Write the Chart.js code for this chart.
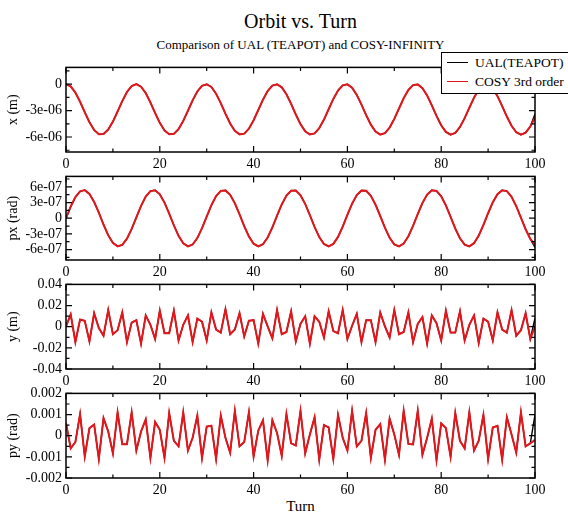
<!DOCTYPE html>
<html><head><meta charset="utf-8">
<script src="https://cdn.jsdelivr.net/npm/chart.js@4.4.1/dist/chart.umd.min.js"></script>
<style>
html,body{margin:0;padding:0;background:#fff;width:568px;height:515px;overflow:hidden;position:relative;font-family:"Liberation Serif","Times New Roman",serif;color:#000;}
canvas{position:absolute;left:0;}
#title{position:absolute;left:66px;width:469px;top:11px;text-align:center;font-size:20px;line-height:20px;white-space:nowrap;}
#subtitle{position:absolute;left:66px;width:469px;top:38px;text-align:center;font-size:13px;line-height:13px;white-space:nowrap;}
#xlabel{position:absolute;left:66px;width:469px;top:499px;text-align:center;font-size:15px;line-height:15px;}
#legend{position:absolute;left:441px;top:52px;width:150px;height:40px;border:1.5px solid #000;background:#fff;z-index:5;}
.item{position:absolute;left:5px;font-size:13.5px;line-height:14px;white-space:nowrap;}
.sw{display:inline-block;width:21px;height:0;border-top:1.5px solid;vertical-align:middle;margin-right:7px;position:relative;top:-1px;}
</style></head>
<body>
<div id="title">Orbit vs. Turn</div>
<div id="subtitle">Comparison of UAL (TEAPOT) and COSY-INFINITY</div>
<div id="legend">
  <div class="item" style="top:3px"><span class="sw" style="border-color:#000"></span>UAL(TEAPOT)</div>
  <div class="item" style="top:22px"><span class="sw" style="border-color:#e3171b"></span>COSY 3rd order</div>
</div>
<div id="xlabel">Turn</div>
<script>
// ---- data ----
const turns = Array.from({length: 101}, (_, i) => i);

const xTickValues = [0, 20, 40, 60, 80, 100];
const xTickLabels = ['0', '20', '40', '60', '80', '100'];

// x (m), in units of 1e-6 m
const cosyXMicro = [0,-0.25,-0.96,-2.00,-3.19,-4.32,-5.20,-5.68,-5.66,-5.15,
 -4.25,-3.10,-1.92,-0.89,-0.22,0.00,-0.29,-1.02,-2.08,-3.27,
 -4.39,-5.25,-5.69,-5.64,-5.10,-4.17,-3.02,-1.84,-0.83,-0.19,
 -0.01,-0.32,-1.09,-2.16,-3.36,-4.47,-5.30,-5.70,-5.62,-5.05,
 -4.10,-2.93,-1.76,-0.78,-0.16,-0.01,-0.36,-1.15,-2.24,-3.44,
 -4.54,-5.34,-5.71,-5.59,-4.99,-4.02,-2.85,-1.68,-0.72,-0.13,
 -0.02,-0.41,-1.22,-2.32,-3.52,-4.60,-5.38,-5.72,-5.56,-4.93,
 -3.94,-2.76,-1.60,-0.66,-0.11,-0.03,-0.45,-1.29,-2.41,-3.60,
 -4.67,-5.42,-5.73,-5.53,-4.87,-3.86,-2.68,-1.53,-0.61,-0.09,
 -0.05,-0.50,-1.36,-2.49,-3.68,-4.73,-5.46,-5.73,-5.50,-4.81,
 -3.79];
const ualXLast = -3.40;

// px (rad), in units of 1e-7 rad
const cosyPxE7 = [0,2.21,4.03,5.15,5.37,4.65,3.12,1.05,-1.21,-3.25,
 -4.73,-5.38,-5.10,-3.92,-2.06,0.16,2.35,4.13,5.19,5.35,
 4.57,2.99,0.89,-1.36,-3.38,-4.80,-5.39,-5.04,-3.81,-1.91,
 0.32,2.49,4.23,5.23,5.32,4.48,2.86,0.74,-1.52,-3.50,
 -4.88,-5.40,-4.98,-3.69,-1.76,0.48,2.63,4.33,5.27,5.29,
 4.39,2.72,0.58,-1.67,-3.62,-4.94,-5.40,-4.92,-3.58,-1.61,
 0.64,2.77,4.42,5.30,5.26,4.29,2.58,0.42,-1.82,-3.74,
 -5.00,-5.40,-4.85,-3.46,-1.46,0.79,2.91,4.51,5.33,5.22,
 4.20,2.44,0.26,-1.97,-3.85,-5.06,-5.39,-4.78,-3.33,-1.30,
 0.95,3.04,4.60,5.35,5.18,4.09,2.30,0.10,-2.11,-3.96,
 -5.11];
const ualPxLast = -5.60;

// y (m)
const cosyY = [0.0003,0.0116,-0.0145,0.0068,0.0056,-0.0139,0.0127,-0.0012,-0.0086,0.0157,
 -0.0071,-0.0033,0.0136,-0.0145,0.0039,0.0062,-0.0160,0.0107,0.0018,-0.0116,
 0.0151,-0.0062,-0.0062,0.0151,-0.0130,0.0018,0.0107,-0.0145,0.0077,0.0047,
 -0.0130,0.0136,-0.0027,-0.0056,0.0166,-0.0071,-0.0027,0.0127,-0.0092,0.0056,
 0.0062,-0.0160,0.0121,0.0003,-0.0110,0.0157,-0.0071,-0.0050,0.0145,-0.0139,
 0.0027,0.0098,-0.0160,0.0098,0.0047,-0.0101,0.0145,-0.0041,-0.0062,0.0157,
 -0.0116,0.0009,0.0121,-0.0145,0.0062,0.0062,-0.0145,0.0133,0.0003,-0.0101,
 0.0157,-0.0071,-0.0050,0.0136,-0.0145,0.0027,0.0092,-0.0160,0.0107,0.0033,
 -0.0130,0.0151,-0.0056,-0.0056,0.0145,-0.0130,0.0018,0.0107,-0.0154,0.0077,
 0.0047,-0.0130,0.0136,-0.0027,-0.0056,0.0157,-0.0086,-0.0033,0.0127,-0.0116,
 0.0003];
const ualYLast = 0.0080;

// py (rad), in units of 1e-3 rad
const cosyPyE3 = [0.60,-0.60,-0.30,1.02,-0.98,0.36,0.53,-1.10,0.83,0.20,
 -0.83,1.10,-0.40,-0.40,1.10,-0.70,0.20,0.77,-1.05,0.65,
 0.28,-1.05,1.07,-0.24,-0.50,1.10,-0.70,-0.10,0.95,-1.05,
 0.43,0.47,-1.10,0.95,-0.10,-0.80,1.17,-0.50,-0.30,1.10,
 -0.98,0.24,0.73,-1.16,0.73,0.13,-0.95,1.02,-0.36,-0.46,
 1.17,-0.83,0.06,0.87,-1.13,0.50,0.39,-1.10,0.98,-0.10,
 -0.70,1.17,-0.50,-0.24,1.07,-1.05,0.28,0.55,-1.13,0.80,
 0.06,-0.90,1.17,-0.39,-0.41,1.17,-0.90,-0.10,0.80,-1.16,
 0.58,0.36,-1.00,1.07,-0.24,-0.60,1.10,-0.70,-0.24,0.98,
 -1.10,0.39,0.47,-1.13,0.87,0.06,-0.80,1.10,-0.50,-0.36,
 -0.20];
const ualPyLast = 1.00;

const xTicksVals = [0, -3e-6, -6e-6];
const xTicksLbls = ['0', '-3e-06', '-6e-06'];
const pxTicksVals = [6e-7, 3e-7, 0, -3e-7, -6e-7];
const pxTicksLbls = ['6e-07', '3e-07', '0', '-3e-07', '-6e-07'];
const yTicksVals = [0.04, 0.02, 0, -0.02, -0.04];
const yTicksLbls = ['0.04', '0.02', '0', '-0.02', '-0.04'];
const pyTicksVals = [0.002, 0.001, 0, -0.001, -0.002];
const pyTicksLbls = ['0.002', '0.001', '0', '-0.001', '-0.002'];

// ---- build ----
const FONT = '"Liberation Serif", "Times New Roman", serif';
Chart.defaults.font.family = FONT;
const cosyX = cosyXMicro.map(v => v * 1e-6);
const ualX = cosyX.slice(0, 100).concat([ualXLast * 1e-6]);
const cosyPx = cosyPxE7.map(v => v * 1e-7);
const ualPx = cosyPx.slice(0, 100).concat([ualPxLast * 1e-7]);
const ualY = cosyY.slice(0, 100).concat([ualYLast]);
const cosyPy = cosyPyE3.map(v => v * 1e-3);
const ualPy = cosyPy.slice(0, 100).concat([ualPyLast * 1e-3]);

const framePlugin = {
  id: 'frameTicks',
  afterDatasetsDraw(chart, args, opts) {
    const ctx = chart.ctx, a = chart.chartArea;
    const xs = chart.scales.x, ys = chart.scales.y;
    ctx.save();
    ctx.strokeStyle = '#000';
    ctx.lineWidth = 1.5;
    ctx.strokeRect(a.left, a.top, a.right - a.left, a.bottom - a.top);
    ctx.lineWidth = 1.2;
    ctx.beginPath();
    const xMaj = xTickValues, xMin = [];
    for (let i = 0; i < xMaj.length - 1; i++) xMin.push((xMaj[i] + xMaj[i + 1]) / 2);
    xMaj.forEach(v => { const p = xs.getPixelForValue(v);
      ctx.moveTo(p, a.bottom); ctx.lineTo(p, a.bottom - 6);
      ctx.moveTo(p, a.top); ctx.lineTo(p, a.top + 6); });
    xMin.forEach(v => { const p = xs.getPixelForValue(v);
      ctx.moveTo(p, a.bottom); ctx.lineTo(p, a.bottom - 3.5);
      ctx.moveTo(p, a.top); ctx.lineTo(p, a.top + 3.5); });
    const yMaj = opts.major, step = Math.abs(yMaj[0] - yMaj[1]);
    const yMin = [];
    for (let v = yMaj[0] + step / 2; v >= ys.min - 1e-12; v -= step) yMin.push(v);
    for (let v = yMaj[0] - step / 2; v <= ys.max + 1e-12; v += step) yMin.push(v);
    const ext = []; for (let v = yMaj[0] + step; v <= ys.max + 1e-12; v += step) ext.push(v);
    for (let v = yMaj[yMaj.length - 1] - step; v >= ys.min - 1e-12; v -= step) ext.push(v);
    yMaj.concat(ext).forEach(v => { const p = ys.getPixelForValue(v);
      ctx.moveTo(a.left, p); ctx.lineTo(a.left + 6, p);
      ctx.moveTo(a.right, p); ctx.lineTo(a.right - 6, p); });
    yMin.forEach(v => { if (v < ys.min || v > ys.max) return; const p = ys.getPixelForValue(v);
      ctx.moveTo(a.left, p); ctx.lineTo(a.left + 3.5, p);
      ctx.moveTo(a.right, p); ctx.lineTo(a.right - 3.5, p); });
    ctx.stroke();
    ctx.restore();
  }
};

const panels = [
  {top: 64, bottom: 152, min: -7.7e-6, max: 1.9e-6, title: 'x (m)', cosy: cosyX, ual: ualX, tv: xTicksVals, tl: xTicksLbls},
  {top: 173, bottom: 260, min: -8e-7, max: 8e-7, title: 'px (rad)', cosy: cosyPx, ual: ualPx, tv: pxTicksVals, tl: pxTicksLbls},
  {top: 281, bottom: 369, min: -0.04, max: 0.04, title: 'y (m)', cosy: cosyY, ual: ualY, tv: yTicksVals, tl: yTicksLbls},
  {top: 390, bottom: 478, min: -0.002, max: 0.002, title: 'py (rad)', cosy: cosyPy, ual: ualPy, tv: pyTicksVals, tl: pyTicksLbls}
];

panels.forEach(p => {
  const padTop = 9, xAxisH = 22;
  const h = p.bottom - p.top + padTop + xAxisH;
  const c = document.createElement('canvas');
  c.width = 568; c.height = h;
  c.style.top = (p.top - padTop) + 'px';
  c.style.width = '568px'; c.style.height = h + 'px';
  document.body.appendChild(c);
  new Chart(c, {
    type: 'line',
    data: {labels: turns, datasets: [
      {label: 'COSY 3rd order', data: p.cosy, borderColor: '#e3171b', borderWidth: 2, pointRadius: 0, order: 0, tension: 0},
      {label: 'UAL(TEAPOT)', data: p.ual, borderColor: '#000', borderWidth: 1.4, pointRadius: 0, order: 1, tension: 0}
    ]},
    options: {
      responsive: false, animation: false, devicePixelRatio: 1,
      layout: {padding: {top: padTop, right: 33, left: 0, bottom: 0}},
      plugins: {legend: {display: false}, tooltip: {enabled: false}, frameTicks: {major: p.tv}},
      scales: {
        x: {type: 'linear', min: 0, max: 100,
          grid: {display: false, drawTicks: false}, border: {display: false},
          ticks: {padding: 4, autoSkip: false, maxRotation: 0, color: '#000', font: {family: FONT, size: 14},
            callback: (v, i) => xTickLabels[i]},
          afterBuildTicks: s => { s.ticks = xTickValues.map(v => ({value: v})); },
          afterFit: s => { s.height = xAxisH; }},
        y: {type: 'linear', min: p.min, max: p.max,
          grid: {display: false, drawTicks: false}, border: {display: false},
          ticks: {padding: 4, autoSkip: false, color: '#000', font: {family: FONT, size: 14},
            callback: (v, i) => p.tl[i]},
          afterBuildTicks: s => { s.ticks = p.tv.map(v => ({value: v})); },
          afterFit: s => { s.width = 66; },
          title: {display: true, text: p.title, color: '#000', font: {family: FONT, size: 14}, padding: {top: 5, bottom: 0}}}
      }
    },
    plugins: [framePlugin]
  });
});
</script>
</body></html>
